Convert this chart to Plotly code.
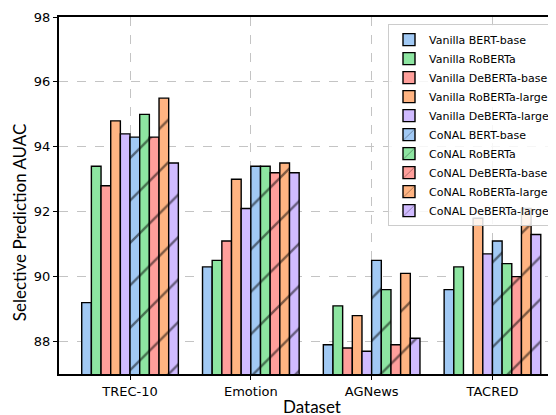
import plotly.graph_objects as go

# Data
datasets = ["TREC-10", "Emotion", "AGNews", "TACRED"]
models = ["BERT-base", "RoBERTa", "DeBERTa-base", "RoBERTa-large", "DeBERTa-large"]

vanilla_bert_base = [89.2, 90.3, 87.9, 89.6]
vanilla_roberta = [93.4, 90.5, 89.1, 90.3]
vanilla_deberta_base = [92.8, 91.1, 87.8, 86.5]
vanilla_roberta_large = [94.8, 93.0, 88.8, 91.8]
vanilla_deberta_large = [94.4, 92.1, 87.7, 90.7]

conal_bert_base = [94.3, 93.4, 90.5, 91.1]
conal_roberta = [95.0, 93.4, 89.6, 90.4]
conal_deberta_base = [94.3, 93.2, 87.9, 90.0]
conal_roberta_large = [95.5, 93.5, 90.1, 92.1]
conal_deberta_large = [93.5, 93.2, 88.1, 91.3]

vanilla = [vanilla_bert_base, vanilla_roberta, vanilla_deberta_base,
           vanilla_roberta_large, vanilla_deberta_large]
conal = [conal_bert_base, conal_roberta, conal_deberta_base,
         conal_roberta_large, conal_deberta_large]

# seaborn pastel
palette = ["#a1c9f4", "#8de5a1", "#ff9f9b", "#ffb482", "#d0bbff"]

fig = go.Figure()

for name, vals, color in zip(models, vanilla, palette):
    fig.add_trace(
        go.Bar(
            x=datasets,
            y=vals,
            name=f"Vanilla {name}",
            marker=dict(color=color, line=dict(color="black", width=1.4)),
        )
    )

for name, vals, color in zip(models, conal, palette):
    fig.add_trace(
        go.Bar(
            x=datasets,
            y=vals,
            name=f"CoNAL {name}",
            marker=dict(
                color=color,
                line=dict(color="black", width=1.4),
                pattern=dict(
                    shape="/",
                    size=30,
                    solidity=0.08,
                    fgcolor="black",
                    fillmode="overlay",
                ),
            ),
        )
    )

grid = dict(gridcolor="#c4c4c4", griddash="dash", gridwidth=1)

# page body has an 8px margin, so the figure is a bit smaller than the window
fig.update_layout(
    width=548,
    height=407,
    plot_bgcolor="white",
    paper_bgcolor="white",
    barmode="group",
    bargap=0.2,
    bargroupgap=0,
    margin=dict(l=51, r=0, t=9, b=41),
    font=dict(family="DejaVu Sans", size=13, color="black"),
    xaxis=dict(
        range=[-0.588, 3.526],
        showline=True,
        linecolor="black",
        linewidth=2,
        mirror=True,
        ticks="outside",
        ticklen=4,
        tickcolor="black",
        tickfont=dict(size=13),
        **grid,
    ),
    yaxis=dict(
        range=[87, 98],
        tickvals=[88, 90, 92, 94, 96, 98],
        showline=True,
        linecolor="black",
        linewidth=2,
        ticks="outside",
        ticklen=4,
        tickcolor="black",
        tickfont=dict(size=13),
        zeroline=False,
        **grid,
    ),
    legend=dict(
        x=1,
        xanchor="right",
        y=0.98,
        yanchor="top",
        bgcolor="rgba(255,255,255,0.85)",
        bordercolor="#cccccc",
        borderwidth=1,
        font=dict(family="DejaVu Sans", size=11),
        tracegroupgap=0,
    ),
    annotations=[
        dict(
            text="Selective Prediction AUAC",
            xref="paper",
            yref="paper",
            x=-0.078,
            y=0.426,
            xanchor="center",
            yanchor="middle",
            textangle=-90,
            showarrow=False,
            font=dict(family="Lato", size=17),
        ),
        dict(
            text="Dataset",
            xref="paper",
            yref="paper",
            x=0.51,
            y=-0.092,
            yanchor="middle",
            showarrow=False,
            font=dict(family="Lato", size=17),
        ),
    ],
)

fig.write_html("out.html")
